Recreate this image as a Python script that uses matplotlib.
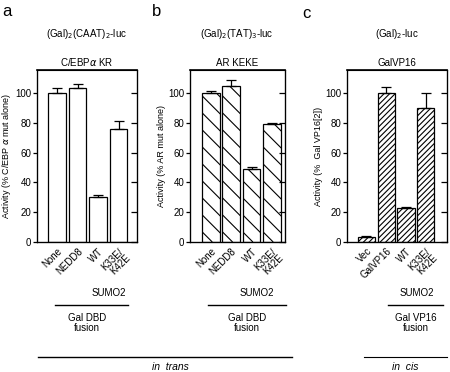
import matplotlib
matplotlib.use("Agg")
import matplotlib.pyplot as plt
from matplotlib.lines import Line2D
from matplotlib.collections import LineCollection
from matplotlib.transforms import IdentityTransform

plt.rcParams["font.family"] = ["Liberation Sans", "DejaVu Sans"]
plt.rcParams["hatch.linewidth"] = 0.8

# data
labels_ab = ["None", "NEDD8", "WT", "K33E/\nK42E"]
labels_c = ["Vec", "GalVP16", "WT", "K33E/\nK42E"]
vals_a = [100, 103, 30, 76]
err_a = [3.5, 3, 1.5, 5]
vals_b = [100, 105, 49, 79]
err_b = [1, 4, 1.5, 1]
vals_c = [3.5, 100, 23, 90]
err_c = [0.5, 4, 0.5, 10]
yticks = [0, 20, 40, 60, 80, 100]

W, H = 450, 372
fig = plt.figure(figsize=(4.5, 3.72), dpi=100)


def fx(px):
    return px / W


def fy(py):
    return 1 - py / H


def sparse_hatch(ax, bars, step=17):
    # wide "\" hatching, drawn by hand since matplotlib's densities are too coarse
    for rect in bars:
        (x0, y0), (x1, y1) = ax.transData.transform(
            [(rect.get_x(), 0), (rect.get_x() + rect.get_width(), rect.get_height())])
        segs = []
        c = x0 + y0 + step * 0.6
        while c < x1 + y1:
            segs.append([(c - y1, y1), (c - y0, y0)])
            c += step
        lc = LineCollection(segs, transform=IdentityTransform(), colors="black",
                            linewidths=0.8)
        ax.add_collection(lc, autolim=False)
        lc.set_clip_path(rect)


def panel(left, right, vals, errs, labels, hatch, xlim, ylabel, title):
    ax = fig.add_axes([fx(left), fy(242), fx(right - left), fy(70) - fy(242)])
    x = range(len(vals))
    bars = ax.bar(x, vals, width=0.87, color="white", edgecolor="black",
                  linewidth=0.9, hatch=hatch)
    ax.errorbar(x, vals, yerr=[[0] * len(errs), errs], fmt="none", ecolor="black",
                elinewidth=0.9, capsize=3.5, capthick=0.9)
    ax.set_xlim(*xlim)
    ax.set_ylim(0, 115.4)
    ax.set_yticks(yticks)
    ax.set_xticks(list(x))
    ax.set_xticklabels(labels, rotation=45, ha="right", va="top",
                       rotation_mode="anchor", fontsize=7, linespacing=0.9)
    ax.tick_params(axis="x", length=0, pad=3)
    ax.tick_params(axis="y", direction="out", length=3, width=0.9, labelsize=7, pad=1)
    for s in ax.spines.values():
        s.set_linewidth(0.9)
    ax.spines["top"].set_linewidth(1.2)
    ax2 = ax.twinx()
    ax2.set_ylim(0, 115.4)
    ax2.set_yticks(yticks)
    ax2.tick_params(axis="y", direction="in", length=4, width=0.9, labelright=False)
    ax.set_ylabel(ylabel, fontsize=6.5, labelpad=2)
    ax.set_title(title, fontsize=7, pad=3)
    return ax, bars


panel(37, 137, vals_a, err_a, labels_ab, None, (-0.98, 3.9),
      "Activity (% C/EBP $\\alpha$ mut alone)", "C/EBP$\\alpha$ KR")
ax_b, bars_b = panel(190, 285, vals_b, err_b, labels_ab, None, (-1.03, 3.65),
                     "Activity (% AR mut alone)", "AR KEKE")
sparse_hatch(ax_b, bars_b)
panel(347, 447, vals_c, err_c, labels_c, "//////", (-0.98, 4.07),
      "Activity (%  Gal VP16[2])", "GalVP16")

# panel letters and promoter headers
for px, py, s in [(2, 12, "a"), (152, 12, "b"), (302, 14, "c")]:
    fig.text(fx(px), fy(py), s, fontsize=12, va="center", ha="left")
fig.text(fx(87), fy(34), "(Gal)$_2$(CAAT)$_2$-luc", fontsize=7, ha="center", va="center")
fig.text(fx(237), fy(34), "(Gal)$_2$(TAT)$_3$-luc", fontsize=7, ha="center", va="center")
fig.text(fx(397), fy(34), "(Gal)$_2$-luc", fontsize=7, ha="center", va="center")


def hline(x0, x1, y, lw=1.0):
    fig.add_artist(Line2D([fx(x0), fx(x1)], [fy(y), fy(y)], color="black", lw=lw,
                          transform=fig.transFigure))


# SUMO2 groups
for cx, x0, x1 in [(109, 55, 128), (257, 208, 286), (417, 388, 443)]:
    fig.text(fx(cx), fy(293), "SUMO2", fontsize=7, ha="center", va="center")
    hline(x0, x1, 305)
fig.text(fx(87), fy(323), "Gal DBD\nfusion", fontsize=7, ha="center", va="center",
         linespacing=0.95)
fig.text(fx(247), fy(323), "Gal DBD\nfusion", fontsize=7, ha="center", va="center",
         linespacing=0.95)
fig.text(fx(416), fy(323), "Gal VP16\nfusion", fontsize=7, ha="center", va="center",
         linespacing=0.95)

hline(38, 292, 357)
hline(364, 447, 357, lw=0.8)
fig.text(fx(170), fy(367), "in  trans", fontsize=7.5, style="italic", ha="center",
         va="center")
fig.text(fx(405), fy(367), "in  cis", fontsize=7.5, style="italic", ha="center",
         va="center")

fig.savefig("out.png", dpi=100)
